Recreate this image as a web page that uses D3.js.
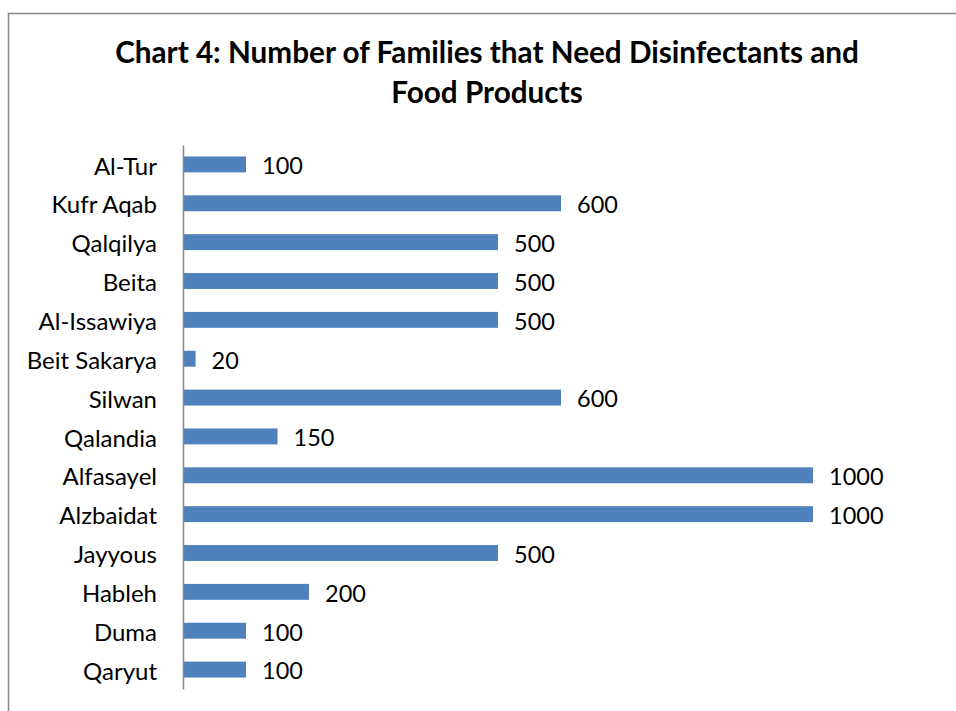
<!DOCTYPE html>
<html>
<head>
<meta charset="utf-8">
<script src="https://cdn.jsdelivr.net/npm/d3@7"></script>
<style>
  body { margin: 0; background: #fff; }
  svg { display: block; }
</style>
</head>
<body>
<div id="chart"></div>
<script>
// Data
const categories = ["Al-Tur", "Kufr Aqab", "Qalqilya", "Beita", "Al-Issawiya", "Beit Sakarya",
  "Silwan", "Qalandia", "Alfasayel", "Alzbaidat", "Jayyous", "Hableh", "Duma", "Qaryut"];
const families = [100, 600, 500, 500, 500, 20, 600, 150, 1000, 1000, 500, 200, 100, 100];
const titleLines = ["Chart 4: Number of Families that Need Disinfectants and", "Food Products"];

const width = 956, height = 711;
const margin = { top: 145, right: 143, bottom: 22, left: 183 };
const barFill = "#4f81bd";
const fontFamily = "Lato, 'Open Sans', sans-serif";

const data = categories.map((c, i) => ({ name: c, value: families[i] }));

const svg = d3.select("#chart").append("svg")
  .attr("width", width)
  .attr("height", height);

// Frame (extends past the visible area on right and bottom)
svg.append("rect")
  .attr("x", 8.5).attr("y", 13.5)
  .attr("width", width + 20).attr("height", height + 20)
  .attr("fill", "none")
  .attr("stroke", "#888")
  .attr("stroke-width", 1.5);

// Title
svg.append("text")
  .attr("x", 487)
  .attr("y", 63)
  .attr("text-anchor", "middle")
  .style("font-family", fontFamily)
  .style("font-weight", "bold")
  .style("font-size", "29.7px")
  .selectAll("tspan")
  .data(titleLines)
  .join("tspan")
  .attr("x", 487)
  .attr("dy", (d, i) => i === 0 ? 0 : 40)
  .text(d => d);

const innerH = height - margin.top - margin.bottom;

const xScale = d3.scaleLinear().domain([0, 1000]).range([0, 630]);
const yScale = d3.scaleBand()
  .domain(categories)
  .range([0, innerH])
  .paddingInner(0.59)
  .paddingOuter(0.295);

const g = svg.append("g")
  .attr("transform", `translate(${margin.left}, ${margin.top})`);

// Bars
g.selectAll("rect.bar")
  .data(data)
  .join("rect")
  .attr("class", "bar")
  .attr("x", 0)
  .attr("y", d => yScale(d.name))
  .attr("width", d => xScale(d.value))
  .attr("height", yScale.bandwidth())
  .attr("fill", barFill);

// Value labels
g.selectAll("text.value")
  .data(data)
  .join("text")
  .attr("class", "value")
  .attr("x", d => xScale(d.value) + 16)
  .attr("y", d => yScale(d.name) + yScale.bandwidth() / 2)
  .attr("dy", "0.42em")
  .style("font-family", fontFamily)
  .style("font-size", "23.5px")
  .attr("fill", "#000")
  .text(d => d.value);

// Y axis
const yAxis = d3.axisLeft(yScale).tickSize(0).tickPadding(26);
const yG = g.append("g").call(yAxis);
yG.select(".domain").attr("stroke", "#888").attr("stroke-width", 1.5);
yG.selectAll("text")
  .style("font-family", fontFamily)
  .style("font-size", "24px")
  .attr("fill", "#000")
  .attr("dy", "0.42em");
</script>
</body>
</html>
